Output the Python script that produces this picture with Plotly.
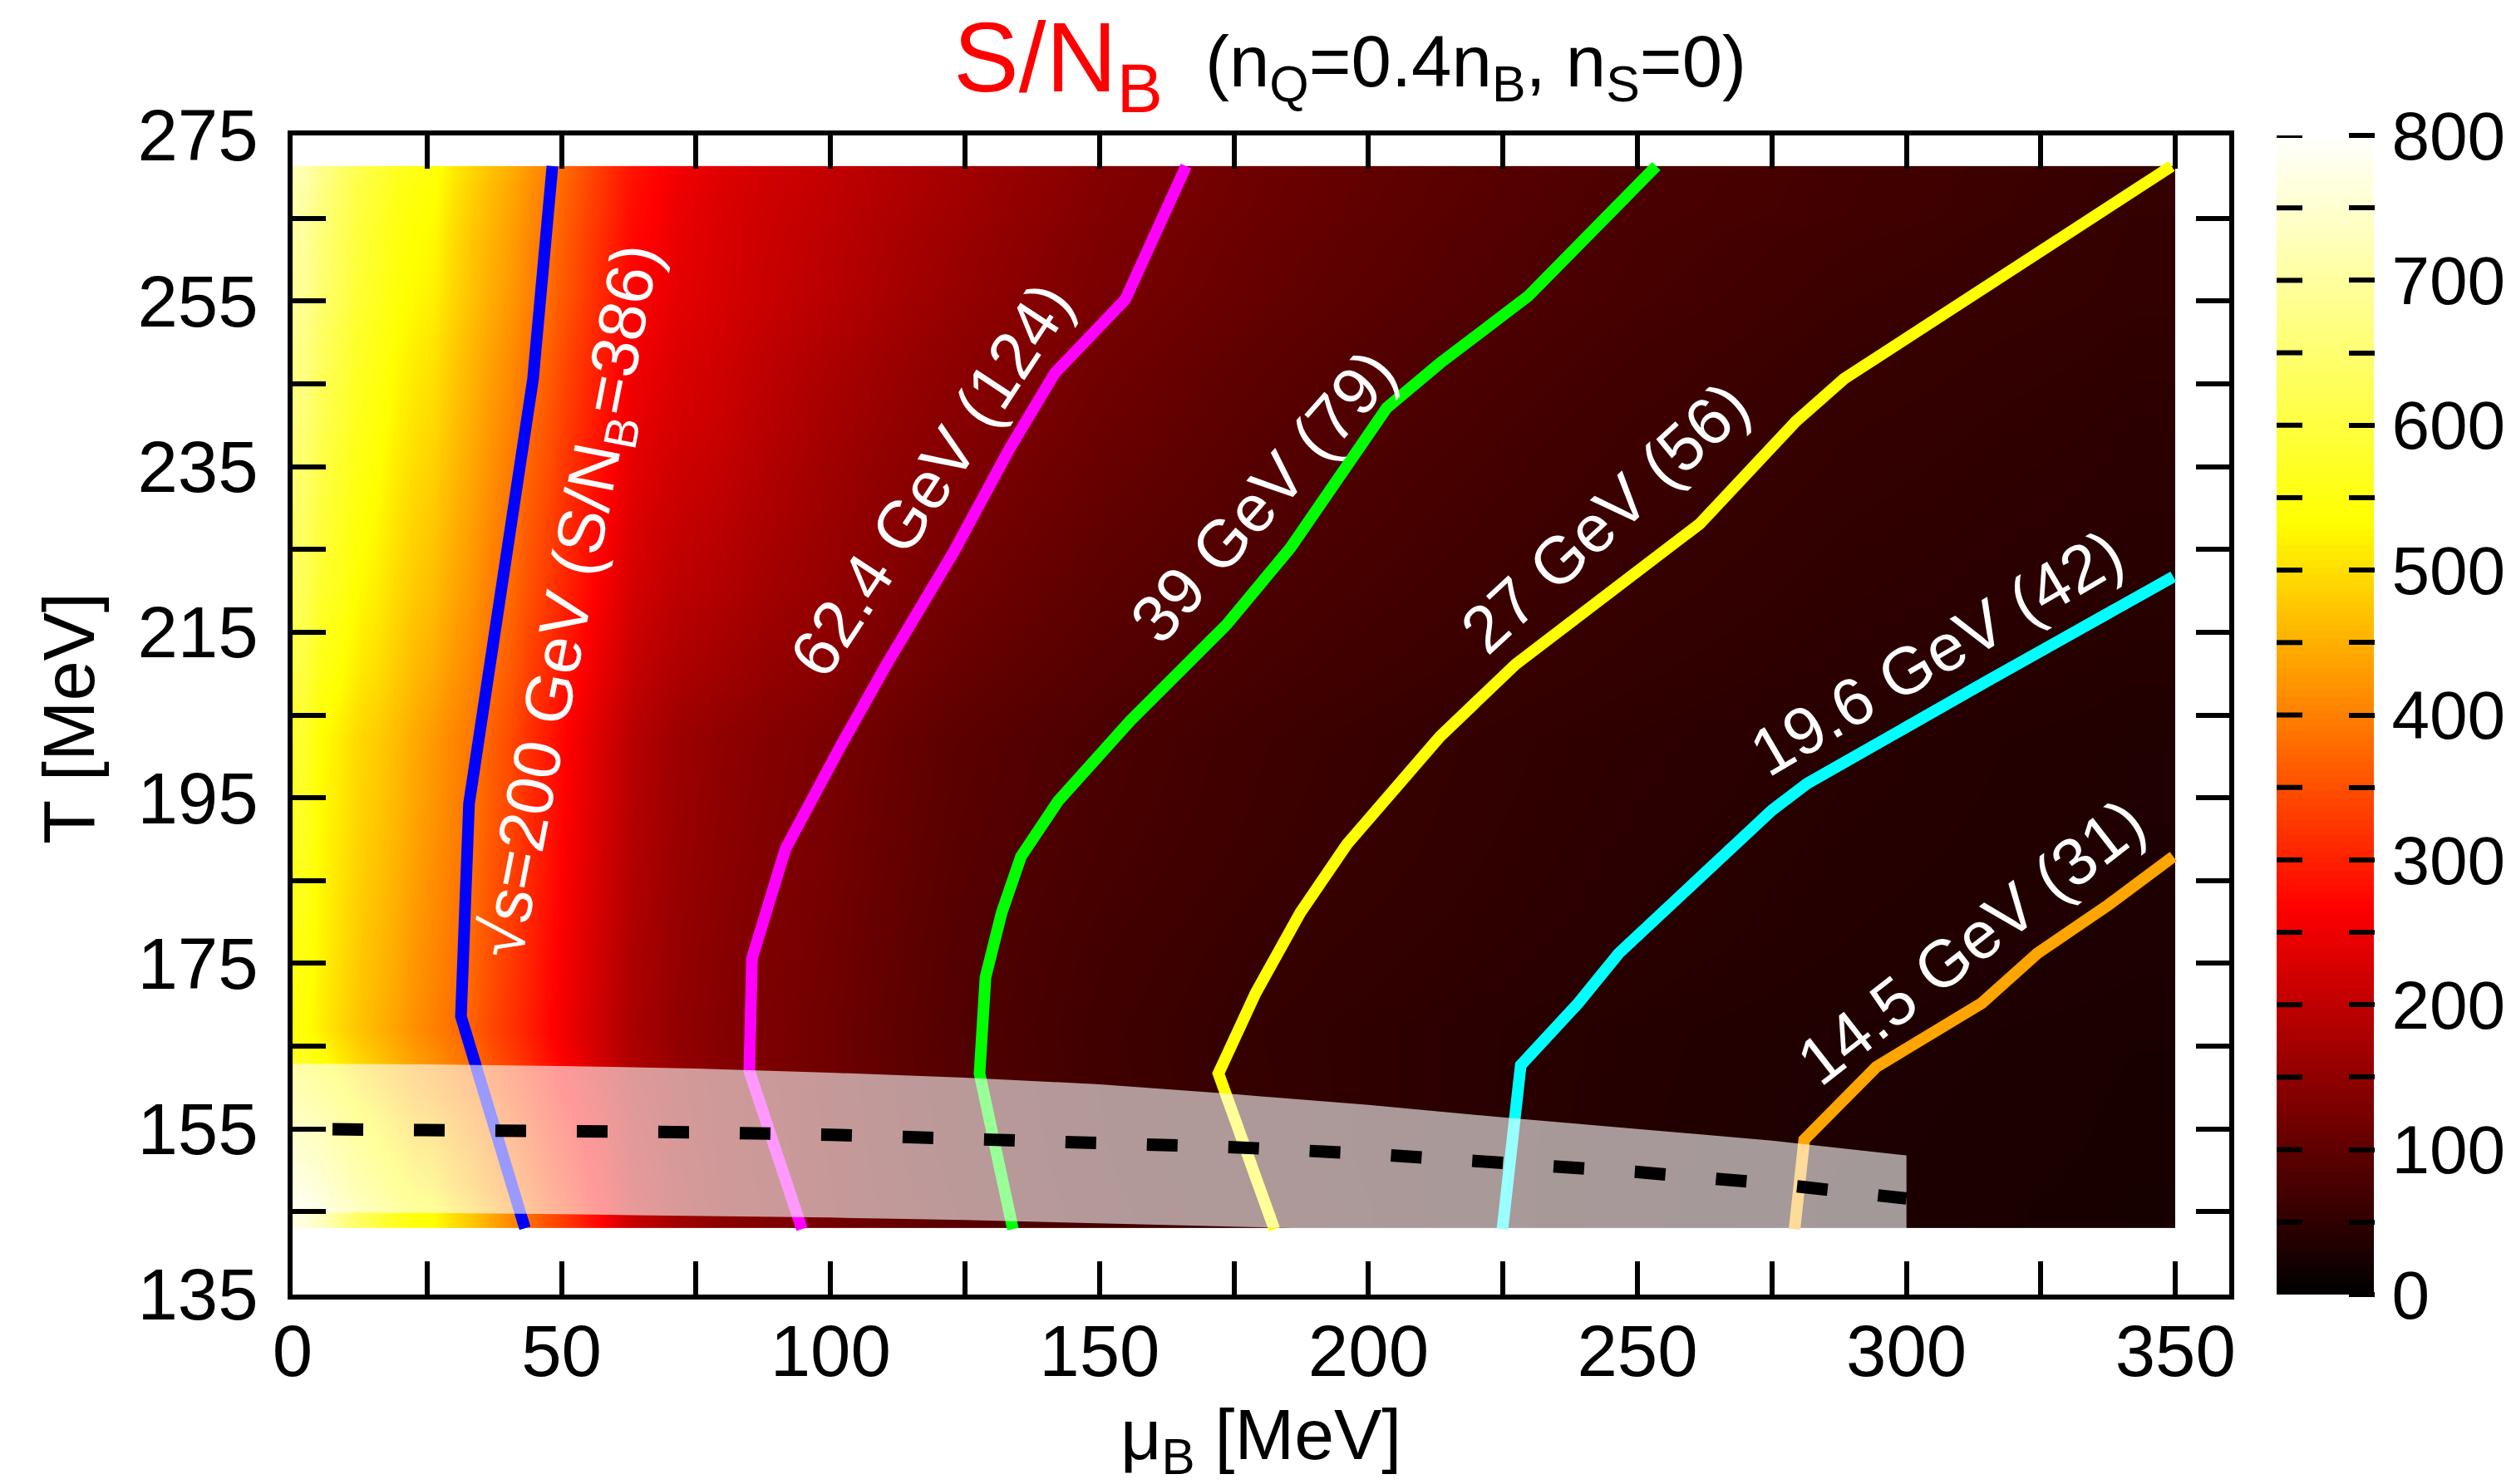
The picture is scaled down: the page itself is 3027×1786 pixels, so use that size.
import numpy as np
import plotly.graph_objects as go

# ---------------- data ----------------
# heat-map grid (cell centres) : mu_B [MeV] and T [MeV]
MU_C = [1.75, 5.25, 8.75, 12.25, 15.75, 19.25, 22.75, 26.25, 29.75, 33.25, 36.75,
        40.25, 43.75, 47.25, 50.75, 54.25, 57.75, 61.25, 64.75, 78, 98, 122, 150,
        180, 210, 250, 290, 320, 348]
T_C = [144, 152, 160, 166, 176, 188, 200, 220, 240, 258, 267, 271]
MU_RANGE = [0, 350]
T_RANGE = [143, 271.3]

# S/N_B (rows = T_C, columns = MU_C)
SNB = [
    [768, 733, 683, 634, 600, 567, 545, 533, 501, 475, 443, 413, 386, 350, 325, 294, 267, 226, 192, 146, 122, 94, 70, 57, 46, 37, 30, 27, 24],
    [684, 652, 613, 574, 546, 519, 497, 484, 458, 435, 406, 379, 354, 322, 298, 270, 246, 212, 183, 143, 120, 90, 68, 55, 45.5, 37.5, 31, 28, 25],
    [599, 572, 542, 513, 492, 471, 450, 435, 414, 395, 368, 345, 322, 295, 270, 247, 224, 198, 173, 141, 118, 88, 67, 54.5, 46, 38, 32, 28.5, 26],
    [540, 515, 493, 471, 454, 437, 416, 400, 384, 367, 342, 321, 300, 275, 251, 230, 209, 188, 167, 139, 117, 86, 66, 54, 46, 38.5, 33, 29.5, 27],
    [552, 521, 500, 478, 462, 445, 424, 408, 391, 375, 350, 329, 305, 281, 256, 235, 214, 193, 170, 142, 120, 88, 69, 57, 50, 42.5, 37, 33.5, 31],
    [567, 527, 508, 486, 471, 454, 434, 417, 400, 384, 359, 338, 311, 288, 262, 241, 219, 199, 174, 146, 124, 92, 74, 62, 53, 44.5, 39, 35.5, 32.5],
    [580, 533, 515, 493, 480, 463, 443, 426, 408, 392, 367, 346, 317, 294, 267, 247, 224, 205, 178, 150, 128, 96, 78, 65, 55, 47, 41, 37, 34],
    [624, 580, 557, 530, 515, 495, 477, 463, 442, 423, 399, 379, 352, 329, 302, 280, 257, 235, 209, 185, 155, 120, 95, 79, 67, 56, 48.5, 44, 41.5],
    [658, 616, 589, 559, 542, 520, 503, 492, 468, 447, 424, 404, 378, 357, 329, 306, 282, 258, 233, 210, 172, 140, 112, 91, 77, 63.5, 54.5, 49.5, 45.5],
    [690, 651, 620, 587, 568, 544, 528, 520, 492, 469, 448, 429, 404, 383, 355, 331, 306, 281, 256, 225, 194, 158, 127, 105, 88, 73, 62, 56.5, 52],
    [705, 667, 634, 600, 580, 555, 540, 533, 504, 480, 459, 440, 416, 395, 367, 342, 317, 291, 267, 228, 200, 168, 134, 112, 94, 77, 69, 61, 54],
    [720, 680, 646, 612, 592, 566, 551, 543, 514, 490, 468, 449, 424, 403, 374, 349, 323, 297, 272, 234, 205, 172, 137, 114, 96, 79, 69.5, 62, 56],
]

# isentropes (mu_B, T)
BLUE_MU = [43.2, 31.3, 32.8, 39.0, 44.7, 48.3]
BLUE_T = [143.0, 168.6, 194.3, 219.9, 245.6, 271.3]
MAG_MU = [94.7, 84.9, 85.4, 91.6, 102.0, 110.4, 122.9, 133.3, 141.7, 154.8, 166.1]
MAG_T = [142.9, 162.0, 175.6, 188.8, 201.4, 211.1, 224.7, 237.2, 246.3, 255.2, 271.3]
GRN_MU = [133.9, 127.7, 128.8, 131.8, 135.4, 142.3, 155.7, 173.6, 185.5, 195.1, 203.4, 213.3, 229.7, 253.5]
GRN_T = [142.9, 161.7, 173.3, 181.1, 187.9, 194.6, 204.3, 215.9, 225.2, 234.3, 242.1, 247.5, 255.6, 271.3]
YEL_MU = [182.5, 172.1, 179.0, 187.3, 196.0, 204.0, 213.3, 227.3, 245.8, 261.6, 279.5, 288.4, 349.3]
YEL_T = [142.9, 161.7, 171.4, 181.1, 189.4, 195.6, 202.4, 211.1, 220.4, 228.1, 240.5, 245.6, 271.3]
CYN_MU = [224.9, 228.3, 239.0, 246.5, 275.0, 281.5, 315.3, 349.6]
CYN_T = [142.9, 162.7, 170.2, 176.2, 193.5, 196.7, 209.2, 221.7]
ORG_MU = [279.2, 281.0, 294.4, 314.0, 324.3, 337.6, 349.6]
ORG_T = [142.9, 153.7, 162.5, 170.2, 176.2, 182.1, 187.9]

LINE_LABELS = ["√s=200 GeV (S/N<sub>B</sub>=386)", "62.4 GeV (124)", "39 GeV (79)",
               "27 GeV (56)", "19.6 GeV (42)", "14.5 GeV (31)"]
LINE_COLORS = ["#0000ff", "#ff00ff", "#00ff00", "#ffff00", "#00ffff", "#ffa500"]

# crossover band and pseudo-critical line
BAND_MU = [0, 25, 50, 75, 100, 125, 150, 175, 200, 225, 250, 275, 300]
BAND_UP = [162.9, 162.8, 162.6, 162.3, 161.8, 161.2, 160.4, 159.2, 157.9, 156.4, 155.0, 153.6, 151.8]
BAND_LO = [144.9, 144.85, 144.7, 144.5, 144.3, 144.0, 143.6, 143.2, 142.8, 142.3, 141.8, 141.2, 140.5]
TC_MU = [0, 25, 50, 75, 100, 125, 150, 175, 200, 225, 250, 275, 300]
TC_T = [155.0, 154.95, 154.8, 154.6, 154.3, 153.9, 153.4, 152.8, 152.0, 151.0, 149.8, 148.4, 146.6]

X_TICKS = [0, 50, 100, 150, 200, 250, 300, 350]
Y_TICKS = [135, 155, 175, 195, 215, 235, 255, 275]
CB_TICKS = [0, 100, 200, 300, 400, 500, 600, 700, 800]
CB_MINOR = [50, 150, 250, 350, 450, 550, 650, 750]

# ---------------- figure ----------------
FONT = "Liberation Sans, Arial, sans-serif"
W, H = 3027, 1786
ML, MR, MT, MB = 344, 179, 155, 236
PW = W - ML - MR
PH = H - MT - MB
def px(x):
    return (x - ML) / PW
def py(y):
    return (H - MB - y) / PH

HOT = [[0, "rgb(0,0,0)"], [1/3, "rgb(255,0,0)"], [2/3, "rgb(255,255,0)"], [1, "rgb(255,255,255)"]]

def edges(c, lo, hi):
    c = np.asarray(c, float)
    m = (c[1:] + c[:-1]) / 2
    return np.concatenate([[lo], m, [hi]])

fig = go.Figure()
fig.add_trace(go.Heatmap(
    x=edges(MU_C, *MU_RANGE), y=edges(T_C, *T_RANGE), z=SNB,
    zmin=0, zmax=800, colorscale=HOT, showscale=False, zsmooth="best",
    hoverinfo="skip"))

series = [(BLUE_MU, BLUE_T), (MAG_MU, MAG_T), (GRN_MU, GRN_T),
          (YEL_MU, YEL_T), (CYN_MU, CYN_T), (ORG_MU, ORG_T)]
for (mx, ty), col in zip(series, LINE_COLORS):
    fig.add_trace(go.Scatter(x=mx, y=ty, mode="lines",
                             line=dict(color=col, width=14), showlegend=False,
                             hoverinfo="skip"))

# band (semi-transparent white)
fig.add_trace(go.Scatter(x=BAND_MU, y=BAND_LO, mode="lines", line=dict(width=0),
                         showlegend=False, hoverinfo="skip"))
fig.add_trace(go.Scatter(x=BAND_MU, y=BAND_UP, mode="lines", line=dict(width=0),
                         fill="tonexty", fillcolor="rgba(255,255,255,0.6)",
                         showlegend=False, hoverinfo="skip"))
fig.add_trace(go.Scatter(x=TC_MU, y=TC_T, mode="lines",
                         line=dict(color="black", width=15, dash="0px,48px,37px,13px"),
                         showlegend=False, hoverinfo="skip"))

# colour bar as its own axes
CB_LEVELS = list(range(0, 801, 5))
fig.add_trace(go.Heatmap(x=[0], y=CB_LEVELS, z=[[v] for v in CB_LEVELS],
                         zmin=0, zmax=800, colorscale=HOT, showscale=False,
                         xaxis="x2", yaxis="y2", hoverinfo="skip"))

CB_L, CB_R, CB_TL = 2731, 2848, 31
tickfont = dict(family=FONT, size=87, color="black")
ax_common = dict(ticks="inside", ticklen=40, tickwidth=6, tickcolor="black",
                 showline=True, linewidth=6, linecolor="black", mirror="ticks",
                 showgrid=False, zeroline=False, tickfont=tickfont)
cb_axis = dict(domain=[0, 1], range=[0, 800], ticklen=CB_TL, tickwidth=6,
               tickcolor="black", showline=False,
               showgrid=False, zeroline=False, fixedrange=True,
               tickvals=CB_TICKS + CB_MINOR)
fig.update_layout(
    width=W, height=H, margin=dict(l=ML, r=MR, t=MT, b=MB),
    paper_bgcolor="white", plot_bgcolor="white", showlegend=False,
    xaxis=dict(domain=[0, 2330 / PW], range=[0, 360], tickvals=X_TICKS,
               minor=dict(dtick=25, tick0=0, ticks="inside", ticklen=40, tickwidth=6, tickcolor="black"),
               ticklabelstandoff=-12, **ax_common),
    yaxis=dict(range=[135, 275], tickvals=Y_TICKS,
               minor=dict(dtick=10, tick0=135, ticks="inside", ticklen=40, tickwidth=6, tickcolor="black"),
               ticklabelstandoff=18, **ax_common),
    xaxis2=dict(domain=[(CB_L - ML) / PW, (CB_R - ML) / PW], range=[-0.5, 0.5],
                visible=False, fixedrange=True),
    # base axis of the bar (no ticks)
    yaxis2=dict(anchor="x2", side="right", ticks="", showticklabels=False, **cb_axis),
    # right side of the bar: ticks pointing into the bar, with labels
    yaxis4=dict(anchor="free", overlaying="y2", side="right",
                position=(CB_R - CB_TL - ML) / PW, ticks="outside",
                ticktext=[str(v) for v in CB_TICKS] + [""] * len(CB_MINOR),
                tickfont=dict(family=FONT, size=82, color="black"),
                ticklabelstandoff=4, **cb_axis),
)
# invisible trace to activate the overlay axis
fig.add_trace(go.Scatter(x=[0], y=[400], xaxis="x2", yaxis="y4", mode="markers",
                         marker=dict(size=1, color="rgba(0,0,0,0)"), showlegend=False,
                         hoverinfo="skip"))

# left-edge tick marks of the colour bar, in the bar's own axes
shapes = []
tick_frac = CB_TL / (CB_R - CB_L)
for v in CB_TICKS + CB_MINOR:
    shapes.append(dict(type="line", xref="x2", yref="y2",
                       x0=-0.5, x1=-0.5 + tick_frac, y0=v, y1=v,
                       line=dict(color="black", width=6), layer="above"))
fig.update_layout(shapes=shapes)

ann = []
# isentrope labels: (mu_B, T, angle)
LABEL_POS = [(52.2, 218.7, -79), (118.7, 233.4, -56.6), (180.4, 231.4, -48.7),
             (244.0, 228.9, -42.7), (305.7, 212.5, -30.4), (312.0, 177.6, -37.9)]
for txt, (xm, yt, ang) in zip(LINE_LABELS, LABEL_POS):
    ann.append(dict(x=xm, y=yt, xref="x", yref="y", text=txt, showarrow=False,
                    textangle=ang, font=dict(family=FONT, size=80, color="white"),
                    xanchor="center", yanchor="middle"))
# title
ann.append(dict(x=px(1265), y=py(70), xref="paper", yref="paper",
                text="S/N<sub>B</sub>", showarrow=False,
                font=dict(family=FONT, size=118, color="#ff0000"),
                xanchor="center", yanchor="middle"))
ann.append(dict(x=px(1767), y=py(72), xref="paper", yref="paper",
                text="(n<sub>Q</sub>=0.4n<sub>B</sub>, n<sub>S</sub>=0)", showarrow=False,
                font=dict(family=FONT, size=87, color="black"),
                xanchor="center", yanchor="middle"))
# axis titles
ann.append(dict(x=px(1509), y=py(1724), xref="paper", yref="paper",
                text="μ<sub>B</sub> [MeV]", showarrow=False,
                font=dict(family=FONT, size=86, color="black"),
                xanchor="center", yanchor="middle"))
ann.append(dict(x=px(75), y=py(857), xref="paper", yref="paper",
                text="T [MeV]", showarrow=False, textangle=-90,
                font=dict(family=FONT, size=87, color="black"),
                xanchor="center", yanchor="middle"))
fig.update_layout(annotations=ann)

fig.write_html("out.html")
